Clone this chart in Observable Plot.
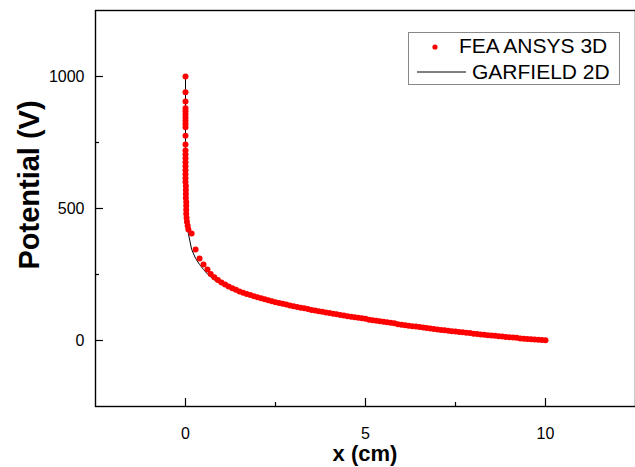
<!DOCTYPE html>
<html>
<head>
<meta charset="utf-8">
<script src="https://cdn.jsdelivr.net/npm/d3@7"></script>
<script src="https://cdn.jsdelivr.net/npm/@observablehq/plot@0.6"></script>
<style>
  html, body { margin: 0; padding: 0; background: #fff; }
  #chart { width: 635px; height: 467px; }
</style>
</head>
<body>
<div id="chart"></div>
<script>
// FEA ANSYS 3D: potential along the x direction (cm, V)
const feaX = [
  0, 0, 0, 0, 0, 0, 0, 0, 0, 0, 0, 0,
  0, 0, 0, 0, 0, 0, 0, 0, 0, 0.01, 0.01, 0.01, 0.01, 0.02, 0.02, 0.02, 0.02, 0.03, 0.04, 0.06, 0.08,
  0.17, 0.28, 0.39, 0.50, 0.61,
  0.7, 0.8, 0.9, 1.0, 1.1, 1.2, 1.3, 1.4, 1.5, 1.6, 1.7, 1.8, 1.9,
  2.0, 2.1, 2.2, 2.3, 2.4, 2.5, 2.6, 2.7, 2.8, 2.9,
  3.0, 3.1, 3.2, 3.3, 3.4, 3.5, 3.6, 3.7, 3.8, 3.9,
  4.0, 4.1, 4.2, 4.3, 4.4, 4.5, 4.6, 4.7, 4.8, 4.9,
  5.0, 5.1, 5.2, 5.3, 5.4, 5.5, 5.6, 5.7, 5.8, 5.9,
  6.0, 6.1, 6.2, 6.3, 6.4, 6.5, 6.6, 6.7, 6.8, 6.9,
  7.0, 7.1, 7.2, 7.3, 7.4, 7.5, 7.6, 7.7, 7.8, 7.9,
  8.0, 8.1, 8.2, 8.3, 8.4, 8.5, 8.6, 8.7, 8.8, 8.9,
  9.0, 9.1, 9.2, 9.3, 9.4, 9.5, 9.6, 9.7, 9.8, 9.9, 10.0
];
const feaV = [
  1000, 940, 905, 880, 868, 856, 844, 832, 820, 808, 776, 742,
  720, 705, 690, 675, 660, 645, 630, 615, 600, 585, 570, 555, 540, 525, 510, 495, 480, 465, 450, 435, 420, 405,
  345, 311, 288, 269, 252,
  240, 229, 220, 212, 205, 198, 192, 186, 181, 176, 172, 168, 164,
  160, 156, 152, 149, 145, 142, 139, 136, 133, 130,
  127, 124, 122, 119, 116, 114, 111, 109, 106, 104,
  101, 99, 97, 95, 92, 90, 88, 86, 84, 82,
  79, 77, 75, 73, 71, 69, 67, 65, 62, 60,
  58, 56, 54, 53, 51, 49, 47, 45, 44, 42,
  40, 39, 37, 35, 34, 32, 31, 29, 28, 26,
  25, 23, 22, 20, 19, 18, 16, 15, 13, 12,
  11, 10, 8, 7, 6, 5, 4, 3, 2, 1, 0
];

// GARFIELD 2D: potential along the same line
const garX = [0, 0, 0, 0.01, 0.02, 0.04, 0.06, 0.08, 0.17, 0.28, 0.39, 0.5, 0.61, 0.8, 1, 1.5, 2, 2.5, 3, 4, 5, 6, 7, 8, 9, 10];
const garV = [1000, 800, 600, 540, 480, 435, 420, 405, 345, 311, 288, 269, 252, 229, 212, 181, 160, 142, 127, 101, 79, 58, 40, 25, 11, 0];

// Axis ticks and labels
const xMajor = [0, 5, 10];
const xMinor = [2.5, 7.5];
const yMajor = [0, 500, 1000];
const yMinor = [250, 750];
const xDomain = [-2.5, 12.5];
const yDomain = [-250, 1250];
const xTitle = "x (cm)";
const yTitle = "Potential (V)";
const seriesNames = ["FEA ANSYS 3D", "GARFIELD 2D"];

const fea = feaX.map((x, i) => ({x, v: feaV[i]}));
const gar = garX.map((x, i) => ({x, v: garV[i]}));

const W = 635, H = 467;
const mL = 95, mR = 0, mT = 10, mB = 61;
const innerW = W - mL - mR, innerH = H - mT - mB;
const font = "'Liberation Sans', Arial, sans-serif";

const chart = Plot.plot({
  width: W,
  height: H,
  marginLeft: mL,
  marginRight: mR,
  marginTop: mT,
  marginBottom: mB,
  style: {background: "#fff", fontFamily: font, color: "#000"},
  x: {domain: xDomain, axis: null},
  y: {domain: yDomain, axis: null},
  marks: [
    // inward tick marks
    Plot.tickX(xMajor, {x: d => d, stroke: "#000", strokeWidth: 1.2, insetTop: innerH - 8}),
    Plot.tickX(xMinor, {x: d => d, stroke: "#000", strokeWidth: 1.2, insetTop: innerH - 4}),
    Plot.tickY(yMajor, {y: d => d, stroke: "#000", strokeWidth: 1.2, insetRight: innerW - 8}),
    Plot.tickY(yMinor, {y: d => d, stroke: "#000", strokeWidth: 1.2, insetRight: innerW - 4}),
    Plot.axisX(xMajor, {anchor: "bottom", tickSize: 0, tickPadding: 21, fontSize: 16, label: null, tickFormat: d3.format("d")}),
    Plot.axisY(yMajor, {anchor: "left", tickSize: 0, tickPadding: 11, fontSize: 16, label: null, tickFormat: d3.format("d")}),
    // GARFIELD 2D line, then FEA points on top
    Plot.line(gar, {x: "x", y: "v", stroke: "#000", strokeWidth: 1}),
    Plot.dot(fea, {x: "x", y: "v", r: 3, fill: "#ff0000", stroke: "none"}),
    Plot.frame({stroke: "#000", strokeWidth: 1.4})
  ]
});

const svg = d3.select(chart);

// Axis titles
svg.append("text")
  .attr("x", mL + innerW / 2).attr("y", 453).attr("dy", "0.35em")
  .attr("text-anchor", "middle").attr("font-family", font)
  .attr("font-size", 22).attr("font-weight", "bold").attr("fill", "#000")
  .text(xTitle);
svg.append("text")
  .attr("transform", "translate(29,185) rotate(-90)").attr("dy", "0.35em")
  .attr("text-anchor", "middle").attr("font-family", font)
  .attr("font-size", 29).attr("font-weight", "bold").attr("fill", "#000")
  .text(yTitle);

// Legend box in the upper right of the frame
const lg = svg.append("g").attr("font-family", font).attr("font-size", 21).attr("text-anchor", "start");
lg.append("rect").attr("x", 408.5).attr("y", 32.5).attr("width", 211).attr("height", 52)
  .attr("fill", "#fff").attr("stroke", "#888").attr("stroke-width", 1);
lg.append("circle").attr("cx", 435).attr("cy", 47).attr("r", 2.6).attr("fill", "#ff0000");
lg.append("text").attr("x", 459).attr("y", 46).attr("dy", "0.35em").attr("fill", "#000").text(seriesNames[0]);
lg.append("line").attr("x1", 417).attr("x2", 466).attr("y1", 72).attr("y2", 72).attr("stroke", "#000").attr("stroke-width", 1);
lg.append("text").attr("x", 472).attr("y", 72).attr("dy", "0.35em").attr("fill", "#000").text(seriesNames[1]);

document.getElementById("chart").appendChild(chart);
</script>
</body>
</html>
